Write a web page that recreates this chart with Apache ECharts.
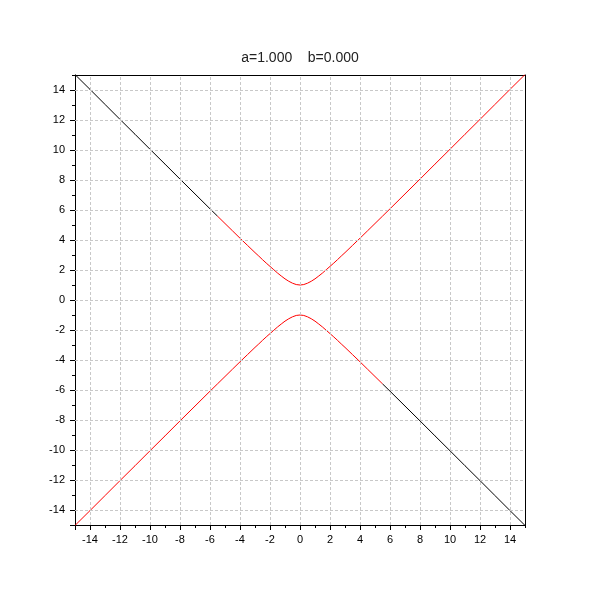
<!DOCTYPE html>
<html>
<head>
<meta charset="utf-8">
<script src="https://cdn.jsdelivr.net/npm/echarts@6/dist/echarts.min.js"></script>
<style>html,body{margin:0;padding:0;background:#fff}#c{width:600px;height:600px}</style>
</head>
<body>
<div id="c"></div>
<script>
var titleText = 'a=1.000    b=0.000';
var xVals = [-15,-14,-13,-12,-11,-10,-9,-8,-7,-6,-5.5,-5,-4.5,-4,-3.5,-3,-2.75,-2.5,-2.25,-2,-1.75,-1.5,-1.25,-1,-0.75,-0.5,-0.25,0,0.25,0.5,0.75,1,1.25,1.5,1.75,2,2.25,2.5,2.75,3,3.5,4,4.5,5,5.5,6,7,8,9,10,11,12,13,14,15];
var upperY = [15.03,14.04,13.04,12.04,11.05,10.05,9.06,8.06,7.07,6.08,5.59,5.10,4.61,4.12,3.64,3.16,2.93,2.69,2.46,2.24,2.02,1.80,1.60,1.41,1.25,1.12,1.03,1.00,1.03,1.12,1.25,1.41,1.60,1.80,2.02,2.24,2.46,2.69,2.93,3.16,3.64,4.12,4.61,5.10,5.59,6.08,7.07,8.06,9.06,10.05,11.05,12.04,13.04,14.04,15.03];
var lowerY = [-15.03,-14.04,-13.04,-12.04,-11.05,-10.05,-9.06,-8.06,-7.07,-6.08,-5.59,-5.10,-4.61,-4.12,-3.64,-3.16,-2.93,-2.69,-2.46,-2.24,-2.02,-1.80,-1.60,-1.41,-1.25,-1.12,-1.03,-1.00,-1.03,-1.12,-1.25,-1.41,-1.60,-1.80,-2.02,-2.24,-2.46,-2.69,-2.93,-3.16,-3.64,-4.12,-4.61,-5.10,-5.59,-6.08,-7.07,-8.06,-9.06,-10.05,-11.05,-12.04,-13.04,-14.04,-15.03];
var majorTicks = [-14,-12,-10,-8,-6,-4,-2,0,2,4,6,8,10,12,14];
var redSplitLeft = -5.5, redSplitRight = 5.5;

function pts(ys, from, to) {
  var out = [];
  for (var i = 0; i < xVals.length; i++) {
    if (xVals[i] >= from && xVals[i] <= to) out.push([xVals[i], ys[i]]);
  }
  return out;
}

var gridLines = [];
majorTicks.forEach(function (v) {
  gridLines.push({ xAxis: v });
  gridLines.push({ yAxis: v });
});

var labelStyle = { color: '#000', fontSize: 11, fontFamily: 'Liberation Sans' };
function mkAxis(isX, kind) {
  var a = {
    type: 'value', min: -15, max: 15, interval: 1,
    position: isX ? 'bottom' : 'left',
    axisLine: { show: false, onZero: false, lineStyle: { color: '#000', width: 1 } },
    splitLine: { show: false },
    axisTick: { show: true, inside: false, length: 3, lineStyle: { color: '#000' } },
    axisLabel: { show: false }
  };
  if (kind === 'main') {
    a.axisLine.show = true;
    a.axisTick = { show: true, length: 5, customValues: [-15].concat(majorTicks), lineStyle: { color: '#000' } };
    a.axisLabel = Object.assign({ show: true, customValues: majorTicks, margin: isX ? 9 : 10 }, labelStyle);
  } else if (kind === 'frame') {
    a.position = isX ? 'top' : 'right';
    a.axisLine.show = true;
    a.axisTick = { show: false };
  }
  return a;
}

var chart = echarts.init(document.getElementById('c'));
chart.setOption({
  animation: false,
  title: { text: titleText, left: 'center', top: 46, textStyle: { fontSize: 14, fontWeight: 'normal', color: '#222', fontFamily: 'Liberation Sans' } },
  grid: { left: 75, right: 75, top: 75, bottom: 75 },
  xAxis: [mkAxis(true, 'main'), mkAxis(true, 'minor'), mkAxis(true, 'frame')],
  yAxis: [mkAxis(false, 'main'), mkAxis(false, 'minor'), mkAxis(false, 'frame')],
  series: [
    { type: 'line', xAxisIndex: 0, yAxisIndex: 0, data: [], symbol: 'none', silent: true,
      markLine: { silent: true, symbol: 'none', label: { show: false }, lineStyle: { color: '#c8c8c8', type: [3, 2], width: 1 }, data: gridLines } },
    { type: 'line', data: pts(upperY, -15, redSplitLeft), symbol: 'none', lineStyle: { color: '#000', width: 1 }, z: 3 },
    { type: 'line', data: pts(lowerY, redSplitRight, 15), symbol: 'none', lineStyle: { color: '#000', width: 1 }, z: 3 },
    { type: 'line', data: pts(upperY, redSplitLeft, 15), symbol: 'none', lineStyle: { color: '#ff0000', width: 1 }, z: 4 },
    { type: 'line', data: pts(lowerY, -15, redSplitRight), symbol: 'none', lineStyle: { color: '#ff0000', width: 1 }, z: 4 }
  ]
});
</script>
</body>
</html>
